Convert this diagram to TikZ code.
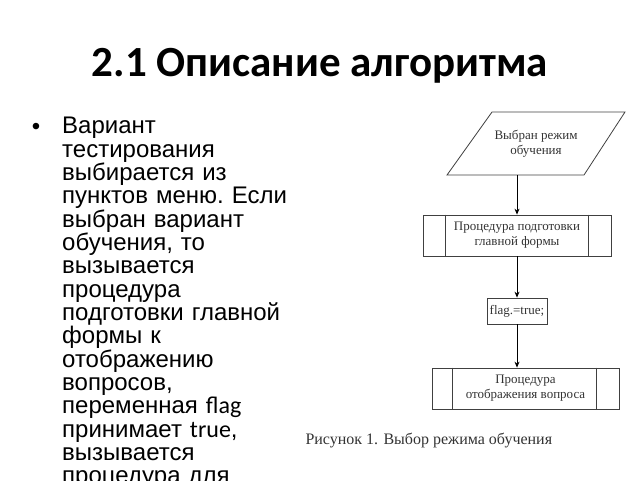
\documentclass[tikz,border=0pt]{standalone}
\usepackage{fontspec}
\setmainfont{Liberation Sans}
\newfontfamily\calfont{Carlito}
\newfontfamily\serfont{Liberation Serif}
\usetikzlibrary{arrows.meta,calc}
\definecolor{fctext}{HTML}{333333}
\definecolor{fcline}{HTML}{404040}
\tikzset{
  fcbox/.style={draw=fcline, line width=0.8pt, inner sep=0pt, align=center,
    font=\serfont\fontsize{13}{15}\selectfont, text=fctext},
  arr/.style={draw=black, line width=0.8pt, -{Stealth[length=6pt,width=5pt]}},
  body/.style={font=\frenchspacing\fontsize{24}{23.35}\selectfont, align=left, inner sep=0pt},
}
\begin{document}
\begin{tikzpicture}[x=1pt,y=-1pt]
\useasboundingbox (0,0) rectangle (640,480);
% title
\node[font=\calfont\bfseries\fontsize{43}{43}\selectfont, anchor=base] (title) at (320,76) {2.1 Описание алгоритма};
% bullet + body
\node[body, anchor=base] (bul) at (36,134) {•};
\node[body, anchor=north west, text width=240pt] (txt) at (62,117) {Вариант\\
тестирования\\
выбирается из\\
пунктов меню. Если\\
выбран вариант\\
обучения, то\\
вызывается\\
процедура\\
подготовки главной\\
формы к\\
отображению\\
вопросов,\\
переменная {\calfont flag}\\
принимает {\calfont true},\\
вызывается\\
процедура для};
% flowchart
\draw[draw=fcline, line width=0.8pt] (492,112) -- (625,112) -- (584,175) -- (447,175) -- cycle;
\node[font=\serfont\fontsize{13}{15}\selectfont, text=fctext, align=center] (inp) at (536,144) {Выбран режим\\обучения};
\coordinate (pb) at (517,175);
\node[fcbox, minimum width=188pt, minimum height=41pt] (b1) at (517,235.5) {Процедура подготовки\\главной формы};
\draw[draw=fcline, line width=0.8pt] ($(b1.north west)+(23,0)$) -- ($(b1.south west)+(23,0)$)
  ($(b1.north east)+(-23,0)$) -- ($(b1.south east)+(-23,0)$);
\node[fcbox, minimum width=60pt, minimum height=26pt] (fl) at (517,311) {flag.=true;};
\node[fcbox, minimum width=187pt, minimum height=41pt] (b3) at (525.5,388.5) {Процедура\\отображения вопроса};
\draw[draw=fcline, line width=0.8pt] ($(b3.north west)+(21,0)$) -- ($(b3.south west)+(21,0)$)
  ($(b3.north east)+(-23,0)$) -- ($(b3.south east)+(-23,0)$);
\draw[arr] (pb) -- (b1.north);
\draw[arr] (b1.south) -- (fl.north);
\draw[arr] (fl.south) -- (fl.south |- b3.north);
% caption
\node[font=\serfont\fontsize{16}{18}\selectfont, text=fctext, anchor=base west] (cap) at (302,444) {Рисунок 1. Выбор режима обучения};
\end{tikzpicture}
\end{document}
